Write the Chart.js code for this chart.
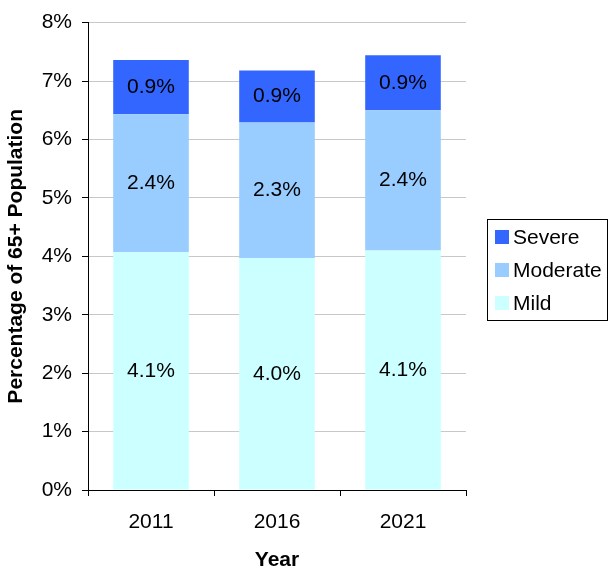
<!DOCTYPE html>
<html>
<head>
<meta charset="utf-8">
<script src="https://cdn.jsdelivr.net/npm/chart.js@4"></script>
<style>
  body { margin: 0; background: #fff; }
  #wrap { width: 609px; height: 570px; }
</style>
</head>
<body>
<div id="wrap"><canvas id="myChart" width="609" height="570"></canvas></div>
<script>
const years = ["2011", "2016", "2021"];
const mild = [4.07, 3.97, 4.1];
const moderate = [2.36, 2.32, 2.4];
const severe = [0.93, 0.89, 0.94];
const yTicks = [0, 1, 2, 3, 4, 5, 6, 7, 8];

const font = "Liberation Sans, Arial, sans-serif";

// labels in the middle of each segment
const barLabels = {
  id: "barLabels",
  afterDatasetsDraw(chart) {
    const ctx = chart.ctx;
    ctx.save();
    ctx.font = "21px " + font;
    ctx.fillStyle = "#000";
    ctx.textAlign = "center";
    ctx.textBaseline = "middle";
    chart.data.datasets.forEach((ds, i) => {
      chart.getDatasetMeta(i).data.forEach((bar, j) => {
        const mid = (bar.y + bar.base) / 2;
        ctx.fillText(ds.data[j].toFixed(1) + "%", bar.x, mid);
      });
    });
    ctx.restore();
  },
};

// boxed legend on the right
const boxLegend = {
  id: "boxLegend",
  afterDraw(chart) {
    const ctx = chart.ctx;
    ctx.save();
    ctx.strokeStyle = "#000";
    ctx.lineWidth = 1;
    ctx.strokeRect(487.5, 219.5, 120, 101);
    ctx.font = "21px " + font;
    ctx.textBaseline = "middle";
    const items = chart.data.datasets.slice().reverse();
    items.forEach((ds, i) => {
      const cy = 237 + i * 33;
      ctx.fillStyle = ds.backgroundColor;
      ctx.fillRect(495, cy - 7, 14, 14);
      ctx.fillStyle = "#000";
      ctx.fillText(ds.label, 513, cy + 1);
    });
    ctx.restore();
  },
};

new Chart(document.getElementById("myChart"), {
  type: "bar",
  data: {
    labels: years,
    datasets: [
      { label: "Mild", data: mild, backgroundColor: "#CCFFFF" },
      { label: "Moderate", data: moderate, backgroundColor: "#99CCFF" },
      { label: "Severe", data: severe, backgroundColor: "#3366FF" },
    ],
  },
  options: {
    responsive: false,
    animation: false,
    layout: { padding: { top: 20, right: 143, left: 0, bottom: 0 } },
    plugins: { legend: { display: false }, tooltip: { enabled: false } },
    datasets: { bar: { barPercentage: 0.6, categoryPercentage: 1 } },
    scales: {
      x: {
        stacked: true,
        afterFit: (s) => { s.height = 80; },
        grid: { offset: true, drawOnChartArea: false, tickColor: "#000", tickLength: 6 },
        border: { color: "#000" },
        ticks: { color: "#000", font: { family: font, size: 21 }, padding: 14 },
        title: {
          display: true,
          text: "Year",
          color: "#000",
          font: { family: font, size: 21, weight: "bold" },
          padding: { top: 0, bottom: -3 },
        },
      },
      y: {
        stacked: true,
        min: 0,
        max: 8,
        afterFit: (s) => { s.width = 88; },
        afterBuildTicks: (s) => { s.ticks = yTicks.map((v) => ({ value: v })); },
        grid: { color: "#c8c8c8", tickColor: "#000", tickLength: 6 },
        border: { color: "#000" },
        ticks: {
          color: "#000",
          font: { family: font, size: 21 },
          padding: 10,
          callback: (v) => v + "%",
        },
        title: {
          display: true,
          text: "Percentage of 65+ Population",
          color: "#000",
          font: { family: font, size: 21, weight: "bold" },
          padding: { top: 4 },
        },
      },
    },
  },
  plugins: [barLabels, boxLegend],
});
</script>
</body>
</html>
